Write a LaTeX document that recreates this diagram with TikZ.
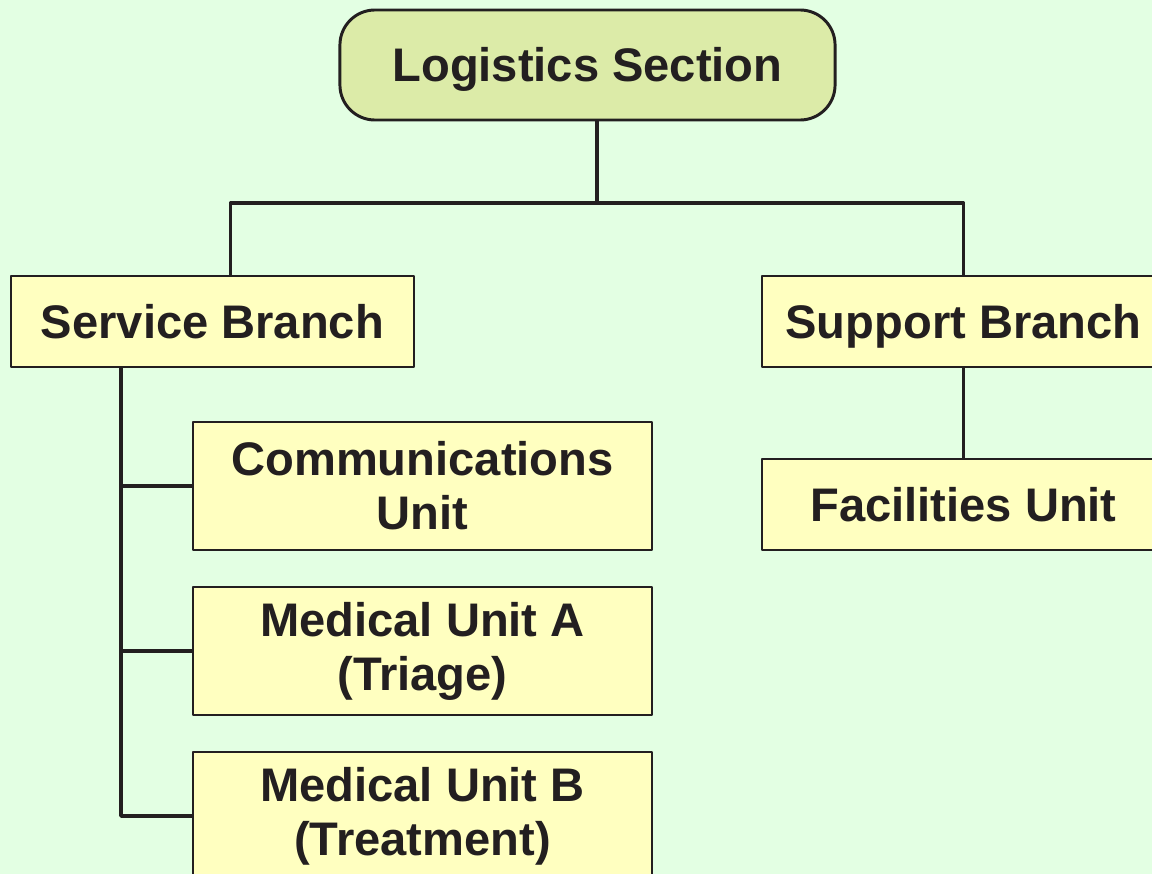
\documentclass[tikz,border=0pt]{standalone}
\usepackage{fontspec}
\setmainfont{Liberation Sans}
\definecolor{bggreen}{HTML}{E3FFE3}
\definecolor{boxyellow}{HTML}{FFFFC0}
\definecolor{headolive}{HTML}{DCEBA8}
\definecolor{inkdark}{HTML}{231F20}
\begin{document}
\begin{tikzpicture}[x=0.025cm, y=-0.025cm, line join=round,
    font=\fontsize{33.5}{38.5}\selectfont\bfseries,
    unitbox/.style={draw=inkdark, line width=1.7pt, fill=boxyellow, text=inkdark, inner sep=0pt, align=center},
    onebox/.style={unitbox, text height=24pt, text depth=0pt},
    branchbox/.style={onebox, minimum width=10.075cm, minimum height=2.275cm},
    subbox/.style={unitbox, minimum width=11.475cm, minimum height=3.2cm},
    link/.style={draw=inkdark, line width=2.6pt}]
    \useasboundingbox (0,0) rectangle (1152,874);
    \clip (0,0) rectangle (1152,874);
    \fill[bggreen] (0,0) rectangle (1152,874);
    \node[onebox, fill=headolive, rounded corners=0.875cm, line width=2.1pt, minimum width=12.375cm, minimum height=2.75cm] (log) at (587.5,65) {Logistics Section};
    \node[branchbox] (serv) at (212.5,321.5) {Service Branch};
    \node[branchbox] (supp) at (963.5,321.5) {Support Branch};
    \node[branchbox] (fac) at (963.5,504.5) {Facilities Unit};
    \node[subbox] (com) at (422.5,486) {Communications\\Unit};
    \node[subbox] (meda) at (422.5,651) {Medical Unit A\\(Triage)};
    \node[subbox] (medb) at (422.5,816) {Medical Unit B\\(Treatment)};
    \coordinate (bus) at (597,203);
    \coordinate (trunk) at (121,367);
    \draw[link] (log.south -| bus) -- (bus);
    \draw[link] ([xshift=0.45cm]serv.north) |- (bus) -| (supp.north);
    \draw[link] (supp.south) -- (fac.north);
    \draw[link] (trunk) |- (medb.west);
    \foreach \n in {com,meda} \draw[link] (trunk |- \n.west) -- (\n.west);
\end{tikzpicture}
\end{document}
